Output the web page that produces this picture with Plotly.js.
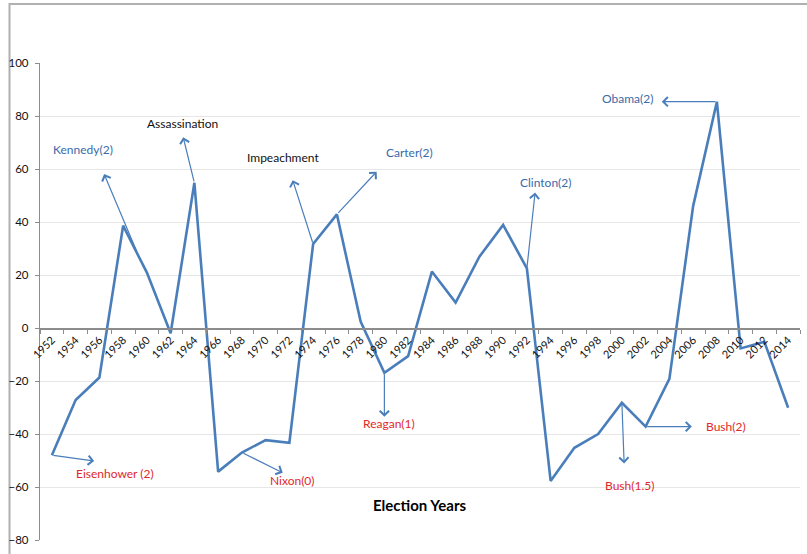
<!DOCTYPE html>
<html>
<head>
<meta charset="utf-8">
<script src="https://cdn.plot.ly/plotly-3.0.1.min.js"></script>
<style>html,body{margin:0;padding:0;background:#fff;}#chart{width:807px;height:554px;}</style>
</head>
<body>
<div id="chart"></div>
<script>
// ---- data ----
var years = [1952, 1954, 1956, 1958, 1960, 1962, 1964, 1966, 1968, 1970, 1972, 1974, 1976, 1978, 1980, 1982,
             1984, 1986, 1988, 1990, 1992, 1994, 1996, 1998, 2000, 2002, 2004, 2006, 2008, 2010, 2012, 2014];
var values = [-48, -27.2, -18.7, 38.6, 20.9, -2, 54.8, -54.2, -47, -42.3, -43.3, 31.7, 42.9, 2.4, -16.9, -10.6,
              21.3, 9.6, 26.9, 38.9, 22.5, -57.7, -45.2, -40, -28.2, -37.2, -19.2, 46.0, 85.4, -7.7, -5.2, -30.1];
var tickLabels = ["1952","1954","1956","1958","1960","1962","1964","1966","1968","1970","1972","1974","1976","1978","1980","1982",
                  "1984","1986","1988","1990","1992","1994","1996","1998","2000","2002","2004","2006","2008","2010","2012","2014"];
var yTicks = [-80, -60, -40, -20, 0, 20, 40, 60, 80, 100];
var noteTexts = ["Kennedy(2)", "Assassination", "Impeachment", "Carter(2)", "Clinton(2)", "Obama(2)",
                 "Eisenhower (2)", "Nixon(0)", "Reagan(1)", "Bush(1.5)", "Bush(2)"];
var xTitle = "Election Years";

// ---- styling / placement ----
var BLUE = "#4a7ebb", TXTBLUE = "#3b6aa8", RED = "#e0282b", BLACK = "#111111";
var FONT = "Lato, 'Open Sans', sans-serif";

var notePlace = [
  {tx: 1954.6, ty: 67.2, c: TXTBLUE, tail: [1959.2, 28.3], head: [1956.4, 58.1]},
  {tx: 1963.0, ty: 77.0, c: BLACK,   tailYear: 1964, head: [1963.06, 72.0]},
  {tx: 1971.46, ty: 64.2, c: BLACK,  tailYear: 1974, head: [1972.28, 55.8]},
  {tx: 1982.08, ty: 66.1, c: TXTBLUE, tailYear: 1976, head: [1979.35, 59.0]},
  {tx: 1993.58, ty: 54.8, c: TXTBLUE, tailYear: 1992, head: [1992.69, 51.1]},
  {tx: 2000.44, ty: 86.7, c: TXTBLUE, tailYear: 2008, head: [2003.36, 85.4]},
  {tx: 1957.35, ty: -54.8, c: RED,   tailYear: 1952, head: [1955.56, -50.2]},
  {tx: 1972.3, ty: -57.7, c: RED,    tailYear: 1968, head: [1971.44, -54.6]},
  {tx: 1980.39, ty: -36.2, c: RED,   tailYear: 1980, head: [1980.0, -33.5]},
  {tx: 2000.65, ty: -59.6, c: RED,   tailYear: 2000, head: [2000.19, -51.1]},
  {tx: 2008.78, ty: -37.0, c: RED,   tailYear: 2002, head: [2005.89, -37.2]}
];

var annotations = [];
noteTexts.forEach(function (t, i) {
  var p = notePlace[i];
  var tail = p.tail ? p.tail : [p.tailYear, values[years.indexOf(p.tailYear)]];
  annotations.push({
    x: p.head[0], y: p.head[1], xref: "x", yref: "y",
    ax: tail[0], ay: tail[1], axref: "x", ayref: "y",
    text: "", showarrow: true, arrowhead: 4, arrowsize: 1.5, arrowwidth: 1.2,
    arrowcolor: BLUE, standoff: 0, startstandoff: 0
  });
  annotations.push({
    x: p.tx, y: p.ty, xref: "x", yref: "y", text: t, showarrow: false,
    font: {family: FONT, size: 12, color: p.c}, xanchor: "center", yanchor: "middle"
  });
});
annotations.push({
  x: 0.5, y: 0.0734, xref: "paper", yref: "paper", text: "<b>" + xTitle + "</b>", showarrow: false,
  font: {family: FONT, size: 15, color: "#000"}, xanchor: "center", yanchor: "middle"
});

var trace = {
  x: years, y: values, type: "scatter", mode: "lines",
  line: {color: BLUE, width: 2.6}, hoverinfo: "x+y"
};

var layout = {
  width: 807, height: 554,
  margin: {l: 40, r: 7, t: 63, b: 14},
  paper_bgcolor: "#ffffff", plot_bgcolor: "#ffffff",
  showlegend: false,
  font: {family: FONT, size: 11, color: "#111"},
  xaxis: {
    range: [1951, 2015], anchor: "free", position: 80 / 180,
    tickmode: "array", tickvals: years, ticktext: tickLabels, tickangle: -45,
    ticks: "", showgrid: false, zeroline: false,
    showline: true, linecolor: "#8c8c8c", linewidth: 1.5,
    tickfont: {family: FONT, size: 11, color: "#111"},
    minor: {tick0: 1951, dtick: 2, ticks: "outside", ticklen: 4, tickcolor: "#8c8c8c", tickwidth: 1, showgrid: false}
  },
  yaxis: {
    range: [-80, 100], tickmode: "array", tickvals: yTicks,
    showgrid: true, gridcolor: "#e6e6e6", gridwidth: 1, zeroline: false,
    showline: true, linecolor: "#8c8c8c", linewidth: 1.2,
    ticks: "outside", ticklen: 4, tickcolor: "#8c8c8c", ticklabelstandoff: 4,
    tickfont: {family: FONT, size: 11.5, color: "#111"}
  },
  annotations: annotations,
  shapes: [{
    type: "rect", xref: "paper", yref: "paper",
    x0: (9.5 - 40) / 760, x1: (812 - 40) / 760,
    y0: -30 / 477, y1: 1 + 59 / 477,
    line: {color: "#b0b0b0", width: 2}, fillcolor: "rgba(0,0,0,0)", layer: "below"
  }]
};

Plotly.newPlot("chart", [trace], layout, {displayModeBar: false, staticPlot: true});
</script>
</body>
</html>
